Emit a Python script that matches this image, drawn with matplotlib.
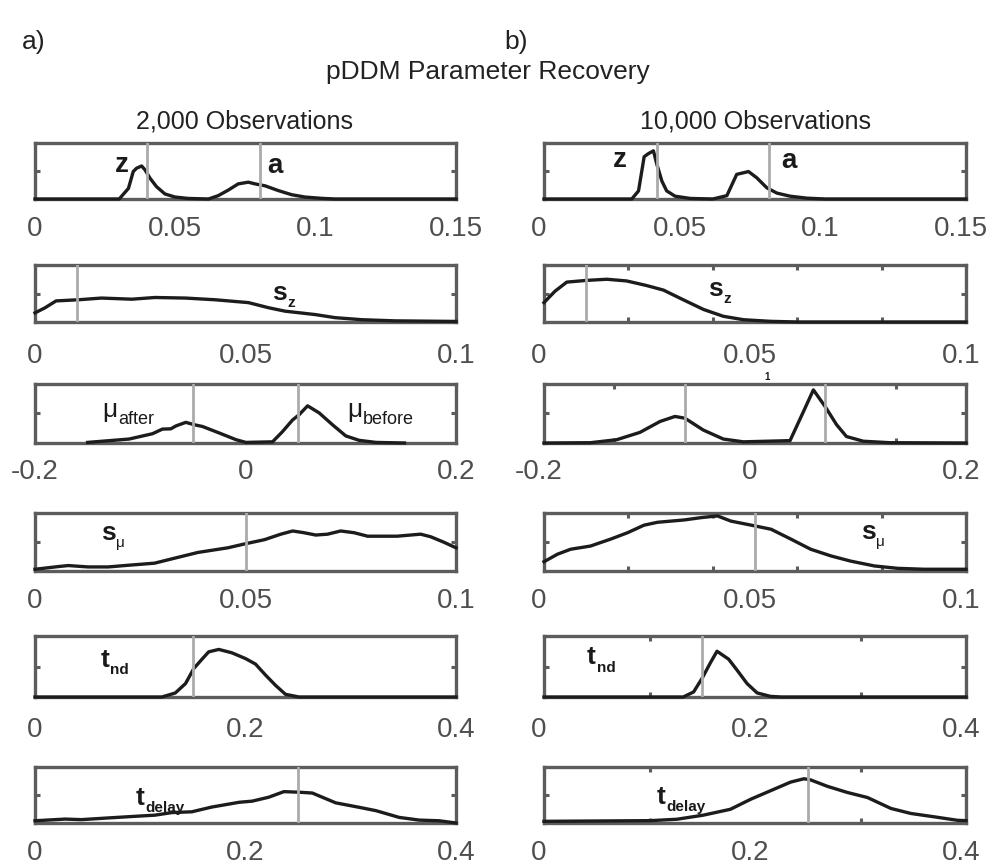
import matplotlib
matplotlib.use("Agg")
import matplotlib.pyplot as plt
from matplotlib.transforms import ScaledTranslation

plt.rcParams['font.family'] = ['Liberation Sans', 'DejaVu Sans']

# ---------------- data (densities as fraction of panel height) ----------------
# 2,000 observations
za_2k_x = [0, 0.030, 0.0333, 0.035, 0.0362, 0.038, 0.0392, 0.041, 0.0433, 0.0463, 0.0499, 0.0546,
           0.0618, 0.0653, 0.0689, 0.0724, 0.076, 0.0784, 0.082, 0.0867, 0.0915, 0.0962, 0.102, 0.107, 0.15]
za_2k_y = [0, 0, 0.19, 0.49, 0.55, 0.59, 0.52, 0.37, 0.22, 0.09, 0.035, 0.01,
           0.0, 0.06, 0.16, 0.27, 0.30, 0.27, 0.235, 0.15, 0.076, 0.035, 0.012, 0.0, 0.0]
sz_2k_x = [0, 0.0024, 0.005, 0.0103, 0.0158, 0.023, 0.0285, 0.0357, 0.0428, 0.0507, 0.0555,
           0.0594, 0.0666, 0.0713, 0.0777, 0.0856, 0.1]
sz_2k_y = [0.16, 0.25, 0.37, 0.39, 0.42, 0.40, 0.43, 0.42, 0.39, 0.34, 0.25,
           0.19, 0.13, 0.076, 0.04, 0.02, 0.01]
mu_2k_x = [-0.15, -0.1106, -0.0884, -0.0789, -0.071, -0.066, -0.0567, -0.0488, -0.0409, -0.025,
           -0.009, 0.0003, 0.0257, 0.035, 0.0447, 0.051, 0.059, 0.07, 0.0826, 0.0953, 0.108, 0.124, 0.151]
mu_2k_y = [0.01, 0.067, 0.157, 0.236, 0.24, 0.29, 0.35, 0.31, 0.28, 0.17,
           0.056, 0.01, 0.02, 0.19, 0.39, 0.48, 0.63, 0.51, 0.31, 0.12, 0.045, 0.01, 0.0]
smu_2k_x = [0, 0.0055, 0.0079, 0.0126, 0.0174, 0.0213, 0.0284, 0.0331, 0.0387, 0.0458, 0.05, 0.0545,
            0.0584, 0.0612, 0.0639, 0.0667, 0.0695, 0.0726, 0.0758, 0.079, 0.086, 0.0916, 0.094, 0.097, 0.1]
smu_2k_y = [0.03, 0.076, 0.094, 0.07, 0.07, 0.094, 0.135, 0.22, 0.32, 0.40, 0.47, 0.54,
            0.635, 0.69, 0.66, 0.62, 0.635, 0.69, 0.66, 0.60, 0.60, 0.635, 0.59, 0.50, 0.40]
tnd_2k_x = [0, 0.1206, 0.1333, 0.143, 0.151, 0.1587, 0.165, 0.1746, 0.187, 0.2, 0.2095, 0.219,
            0.2286, 0.238, 0.2508, 0.4]
tnd_2k_y = [0, 0, 0.066, 0.22, 0.47, 0.62, 0.74, 0.78, 0.725, 0.63, 0.54, 0.36,
            0.19, 0.044, 0, 0]
tdel_2k_x = [0, 0.0286, 0.044, 0.0667, 0.092, 0.114, 0.130, 0.149, 0.168, 0.194, 0.2063, 0.222,
             0.2365, 0.2508, 0.2635, 0.2857, 0.308, 0.324, 0.346, 0.365, 0.384, 0.4]
tdel_2k_y = [0.04, 0.07, 0.06, 0.087, 0.116, 0.14, 0.186, 0.20, 0.285, 0.37, 0.39, 0.46,
             0.56, 0.55, 0.535, 0.36, 0.28, 0.22, 0.10, 0.052, 0.04, 0.0]

# 10,000 observations
za_10k_x = [0, 0.0312, 0.0336, 0.0356, 0.0371, 0.0389, 0.04, 0.0419, 0.0436, 0.0466, 0.052, 0.06,
            0.065, 0.0685, 0.0727, 0.0756, 0.0792, 0.0828, 0.0875, 0.0934, 0.1, 0.15]
za_10k_y = [0, 0, 0.145, 0.755, 0.81, 0.86, 0.64, 0.32, 0.145, 0.05, 0.01, 0.0,
            0.06, 0.44, 0.49, 0.38, 0.2, 0.105, 0.05, 0.015, 0, 0]
sz_10k_x = [0, 0.0026, 0.0054, 0.0101, 0.0149, 0.0196, 0.0243, 0.0283, 0.033, 0.0378, 0.0425,
            0.0473, 0.0536, 0.06, 0.1]
sz_10k_y = [0.34, 0.54, 0.70, 0.73, 0.75, 0.72, 0.64, 0.56, 0.39, 0.22, 0.10,
            0.04, 0.012, 0, 0]
mu_10k_x = [-0.15, -0.117, -0.0983, -0.0818, -0.0675, -0.0569, -0.0498, -0.0368, -0.0225, -0.0083,
            0.0249, 0.0344, 0.0415, 0.0498, 0.058, 0.065, 0.077, 0.096, 0.15]
mu_10k_y = [0, 0.005, 0.056, 0.18, 0.365, 0.45, 0.42, 0.22, 0.067, 0.02,
            0.04, 0.53, 0.90, 0.62, 0.31, 0.11, 0.03, 0.005, 0]
smu_10k_x = [0, 0.0032, 0.0063, 0.011, 0.0158, 0.0198, 0.0237, 0.0269, 0.0332, 0.0372, 0.0411,
             0.0443, 0.0498, 0.0538, 0.0585, 0.0632, 0.068, 0.0727, 0.0783, 0.0838, 0.0901, 0.1]
smu_10k_y = [0.16, 0.29, 0.375, 0.43, 0.55, 0.66, 0.79, 0.84, 0.88, 0.92, 0.95,
             0.86, 0.78, 0.72, 0.55, 0.375, 0.26, 0.17, 0.087, 0.046, 0.03, 0.03]
tnd_10k_x = [0, 0.132, 0.1418, 0.150, 0.1577, 0.164, 0.175, 0.183, 0.1925, 0.202, 0.2147, 0.225, 0.4]
tnd_10k_y = [0, 0, 0.083, 0.31, 0.56, 0.75, 0.62, 0.44, 0.22, 0.067, 0.01, 0, 0]
tdel_10k_x = [0, 0.1007, 0.126, 0.151, 0.1767, 0.196, 0.2147, 0.2337, 0.2464, 0.2527, 0.2686,
              0.2876, 0.3066, 0.3288, 0.3478, 0.37, 0.392, 0.4]
tdel_10k_y = [0.03, 0.042, 0.067, 0.14, 0.245, 0.425, 0.576, 0.73, 0.79, 0.77, 0.655,
              0.545, 0.455, 0.26, 0.17, 0.11, 0.048, 0.042]

# true generating values
true_za = [0.04, 0.08]
true_sz = [0.01]
true_mu = [-0.05, 0.05]
true_smu = [0.05]
true_tnd = [0.15]
true_tdel = [0.25]

# tick labels
ticks_za = [0, 0.05, 0.1, 0.15]
ticks_01 = [0, 0.05, 0.1]
ticks_mu = [-0.2, 0, 0.2]
ticks_mu_10k = [-0.15, 0, 0.15]
labels_za = ['0', '0.05', '0.1', '0.15']
labels_01 = ['0', '0.05', '0.1']
labels_mu = ['-0.2', '0', '0.2']
ticks_t = [0, 0.2, 0.4]
labels_t = ['0', '0.2', '0.4']

# ---------------- styling ----------------
SPINE = '#5c5c5c'
CURVE = '#1c1c1c'
TRUE_C = '#ababab'
LABEL_C = '#4f4f4f'

W, H = 989, 866
fig = plt.figure(figsize=(W / 100, H / 100), dpi=100)

cols = [(35, 456), (544, 966)]
rows = [(143, 199), (265, 322), (384, 443), (513, 571), (636, 697), (767, 823)]
pads_px = [17.5, 21, 16, 17, 20, 17.5]


def make_ax(c, r):
    l, rr = cols[c]
    t, b = rows[r]
    return fig.add_axes([l / W, 1 - b / H, (rr - l) / W, (b - t) / H])


def panel(c, r, xs, ys, xlim, truth, marks, tpos, tlab):
    ax = make_ax(c, r)
    ax.plot(xs, ys, color=CURVE, lw=2.4, clip_on=False, zorder=2.6)
    for tv in truth:
        ax.axvline(tv, color=TRUE_C, lw=2.0, zorder=2.7)
    ax.set_xlim(*xlim)
    ax.set_ylim(0, 1)
    ax.set_xticks(tpos)
    ax.set_xticklabels(tlab)
    ax.set_xticks(marks, minor=True)
    ax.set_yticks([])
    ax.set_yticks([0.5], minor=True)
    ax.tick_params(which='major', length=0, pad=pads_px[r] * 0.72, labelsize=20, labelcolor=LABEL_C)
    ax.tick_params(which='minor', direction='in', length=3.5, width=2.2, color=SPINE,
                   top=True, bottom=True, left=True, right=True)
    for s in ax.spines.values():
        s.set_linewidth(2.4)
        s.set_color(SPINE)
    if c == 1:
        off = ScaledTranslation(-5 / 100, 0, fig.dpi_scale_trans)
        for lbl in ax.get_xticklabels():
            lbl.set_transform(lbl.get_transform() + off)
    return ax


def label(ax, x, y, main, sub=None, size=19, subsize=11, weight='bold', subweight='bold', dy=-1.5):
    t = ax.text(x, y, main, transform=ax.transAxes, fontsize=size, fontweight=weight,
                color='#1a1a1a', ha='left', va='baseline', zorder=5)
    if sub:
        ax.annotate(sub, xy=(1, 0), xycoords=t, xytext=(0.5, dy), textcoords='offset points',
                    fontsize=subsize, fontweight=subweight, color='#1a1a1a',
                    ha='left', va='baseline', zorder=5)
    return t


# column a) 2,000 observations
a1 = panel(0, 0, za_2k_x, za_2k_y, (0, 0.15), true_za, [0.05, 0.1], ticks_za, labels_za)
a2 = panel(0, 1, sz_2k_x, sz_2k_y, (0, 0.1), true_sz, [0.05], ticks_01, labels_01)
a3 = panel(0, 2, mu_2k_x, mu_2k_y, (-0.2, 0.2), true_mu, [0], ticks_mu, labels_mu)
a4 = panel(0, 3, smu_2k_x, smu_2k_y, (0, 0.1), true_smu, [0.05], ticks_01, labels_01)
a5 = panel(0, 4, tnd_2k_x, tnd_2k_y, (0, 0.4), true_tnd, [0.2], ticks_t, labels_t)
a6 = panel(0, 5, tdel_2k_x, tdel_2k_y, (0, 0.4), true_tdel, [0.2], ticks_t, labels_t)

# column b) 10,000 observations
b1 = panel(1, 0, za_10k_x, za_10k_y, (0, 0.15), true_za, [0.05, 0.1], ticks_za, labels_za)
b2 = panel(1, 1, sz_10k_x, sz_10k_y, (0, 0.1), true_sz, [0.02, 0.04, 0.06, 0.08], ticks_01, labels_01)
b3 = panel(1, 2, mu_10k_x, mu_10k_y, (-0.15, 0.15), true_mu, [-0.1, 0, 0.1], ticks_mu_10k, labels_mu)
b4 = panel(1, 3, smu_10k_x, smu_10k_y, (0, 0.1), true_smu, [0.02, 0.04, 0.06, 0.08], ticks_01, labels_01)
b5 = panel(1, 4, tnd_10k_x, tnd_10k_y, (0, 0.4), true_tnd, [0.1, 0.2, 0.3], ticks_t, labels_t)
b6 = panel(1, 5, tdel_10k_x, tdel_10k_y, (0, 0.4), true_tdel, [0.1, 0.2, 0.3], ticks_t, labels_t)

# parameter labels
label(a1, 0.19, 0.49, 'z', size=20)
label(a1, 0.551, 0.46, 'a', size=20)
label(b1, 0.164, 0.58, 'z', size=20)
label(b1, 0.563, 0.556, 'a', size=20)
label(a2, 0.563, 0.386, 's', 'z')
label(b2, 0.388, 0.45, 's', 'z')
label(a3, 0.159, 0.44, 'μ', 'after', size=19, subsize=13, weight='normal', subweight='normal')
label(a3, 0.741, 0.44, 'μ', 'before', size=19, subsize=13, weight='normal', subweight='normal')
label(a4, 0.156, 0.53, 's', 'μ', subweight='normal')
label(b4, 0.751, 0.55, 's', 'μ', subweight='normal')
label(a5, 0.155, 0.497, 't', 'nd')
label(b5, 0.102, 0.533, 't', 'nd')
label(a6, 0.24, 0.33, 't', 'delay')
label(b6, 0.268, 0.34, 't', 'delay')

b3.text(0.528, 1.12, '1', transform=b3.transAxes, fontsize=7, fontweight='bold',
        ha='center', va='center', color='#1a1a1a')

# titles
TXT = '#222222'
fig.text(22 / W, 1 - 42 / H, 'a)', fontsize=19, color=TXT, ha='left', va='center')
fig.text(504 / W, 1 - 42 / H, 'b)', fontsize=19, color=TXT, ha='left', va='center')
fig.text(488 / W, 1 - 72 / H, 'pDDM Parameter Recovery', fontsize=19, color=TXT, ha='center', va='center')
fig.text(245 / W, 1 - 122 / H, '2,000 Observations', fontsize=18, color=TXT, ha='center', va='center')
fig.text(755 / W, 1 - 122 / H, '10,000 Observations', fontsize=18, color=TXT, ha='center', va='center')

fig.savefig('out.png', dpi=100, facecolor='white')
